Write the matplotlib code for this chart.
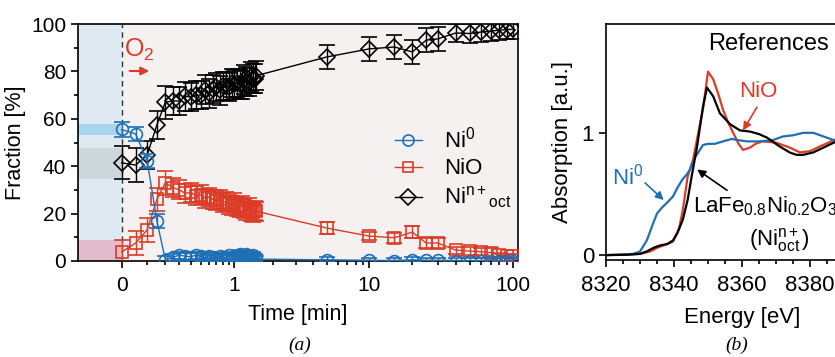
import numpy as np
import matplotlib
matplotlib.use("Agg")
import matplotlib.pyplot as plt
from matplotlib.lines import Line2D
from matplotlib.ticker import FixedLocator, NullFormatter, MultipleLocator

plt.rcParams['font.family'] = ['Liberation Sans', 'DejaVu Sans']
plt.rcParams['mathtext.fontset'] = 'custom'
plt.rcParams['mathtext.rm'] = 'Liberation Sans'
plt.rcParams['mathtext.it'] = 'Liberation Sans:italic'
plt.rcParams['axes.linewidth'] = 1.2

# ---- panel (a) data: fractions vs time ----
t = [0, 0.05, 0.1, 0.15, 0.2, 0.25, 0.3, 0.35, 0.4, 0.45, 0.5, 0.55, 0.6, 0.65, 0.7,
     0.75, 0.8, 0.85, 0.9, 0.95, 1.0, 1.05, 1.1, 1.15, 1.2, 1.25, 1.3, 1.35, 1.4, 1.45, 1.5,
     5, 10, 15, 20, 25, 30, 40, 50, 60, 70, 80, 90, 100]
ni0 = [55.5, 53.6, 42.2, 16.9, 0.6, 1.5, 2.5, 2.0, 1.8, 2.5, 2.0, 1.2, 2.3, 1.5, 1.0,
       2.0, 1.7, 1.2, 2.5, 1.5, 1.0, 2.0, 3.0, 2.2, 1.5, 2.8, 2.0, 1.2, 2.5, 1.5, 0.8,
       0.5, 0.3, 0.2, 0.5, 0.3, 0.3, 0.2, 0.1, 0.2, 0.2, 0.1, 0.1, 0.1]
ni0_err = [3, 3, 3, 3, 1.5, 1.5, 1.5, 1.5, 1.5, 1.5, 1.5, 1.5, 1.5, 1.5, 1.5,
           1.5, 1.5, 1.5, 1.5, 1.5, 1.5, 1.5, 1.5, 1.5, 1.5, 1.5, 1.5, 1.5, 1.5, 1.5, 1.5,
           1, 1, 1, 1, 1, 1, 1, 1, 1, 1, 1, 1, 1]
nio = [3.8, 7.6, 13.2, 26.0, 33.0, 31.0, 30.0, 28.5, 29.0, 27.5, 28.0, 26.5, 27.0, 26.0, 25.5,
       26.0, 24.5, 25.0, 24.0, 23.5, 24.5, 23.0, 22.5, 23.5, 22.0, 21.5, 22.5, 21.0, 20.5, 21.5, 21.0,
       13.9, 10.5, 9.8, 12.2, 7.6, 7.6, 4.6, 4.2, 3.9, 3.5, 2.5, 2.1, 2.0]
nio_err = [5, 5, 5, 5, 5, 4, 4, 4, 4, 4, 4, 4, 4, 4, 4,
           4, 4, 4, 4, 4, 4, 4, 4, 4, 4, 4, 4, 4, 4, 4, 4,
           2.5, 1.7, 2, 2.5, 2, 2, 1.5, 1.5, 1.5, 1.8, 1, 1, 1]
nioct = [41.4, 40.5, 44.7, 57.4, 67.0, 67.5, 67.5, 69.5, 69.2, 70.0, 70.0, 72.3, 70.7, 72.5, 73.5,
         72.0, 73.8, 73.8, 73.5, 75.0, 74.5, 75.0, 74.5, 74.3, 76.5, 75.7, 75.5, 77.8, 77.0, 77.0, 78.2,
         86.1, 89.5, 90.3, 88.2, 93.2, 93.7, 96.2, 96.0, 96.6, 97.0, 97.4, 97.6, 97.8]
nioct_err = [7, 7, 6, 6, 7, 6, 6, 6, 6, 6, 6, 6, 6, 6, 6,
             6, 6, 6, 6, 6, 6, 6, 6, 6, 6, 6, 6, 6, 6, 6, 6,
             5, 5, 5, 5, 5, 5, 4, 4, 4, 4, 4, 4, 4]

# initial-state bands (before O2)
band_ni0 = (53.2, 57.8)
band_oct = (34.6, 47.7)
band_nio = (0, 8.9)

# ---- panel (b) data: reference XANES ----
E_ni = [8320, 8325, 8328, 8330, 8332, 8334, 8335, 8336.5, 8338, 8339.7, 8341, 8342.5, 8343.8,
        8344.7, 8346, 8347.6, 8348.5, 8350, 8352, 8354.4, 8357, 8359, 8361.5, 8365, 8369,
        8372, 8375, 8378, 8381, 8384, 8387, 8390, 8395, 8400]
A_ni = [0, 0.005, 0.01, 0.03, 0.12, 0.27, 0.34, 0.39, 0.43, 0.48, 0.55, 0.62, 0.66,
        0.70, 0.79, 0.86, 0.90, 0.91, 0.91, 0.93, 0.95, 0.94, 0.93, 0.93, 0.94,
        0.97, 0.98, 1.0, 1.0, 0.97, 0.94, 0.92, 0.92, 0.94]
E_nio = [8320, 8326, 8330, 8333, 8335, 8337, 8339.7, 8341.5, 8342.6, 8344, 8345.6, 8347,
         8348.5, 8350, 8351.5, 8353, 8354.4, 8356, 8357.4, 8359, 8360.3, 8362.4, 8364, 8366,
         8370, 8374, 8377, 8380, 8383, 8387, 8390, 8395, 8400]
A_nio = [0, 0.003, 0.01, 0.03, 0.06, 0.08, 0.11, 0.22, 0.37, 0.64, 0.78, 0.98,
         1.19, 1.50, 1.44, 1.32, 1.19, 1.08, 1.0, 0.91, 0.86, 0.88, 0.91, 0.93,
         0.92, 0.88, 0.84, 0.85, 0.89, 0.94, 0.97, 1.0, 1.0]
E_lfno = [8320, 8326, 8330, 8332, 8334, 8336, 8338, 8339.7, 8341, 8342.6, 8344, 8345.3,
          8346.8, 8348.5, 8349.7, 8351.5, 8353.5, 8356.5, 8359.4, 8362.4, 8365, 8367.4,
          8371, 8374, 8376, 8378, 8381, 8384, 8387, 8390, 8395, 8400]
A_lfno = [0, 0.003, 0.01, 0.03, 0.06, 0.08, 0.09, 0.12, 0.18, 0.29, 0.45, 0.66,
          0.89, 1.21, 1.37, 1.30, 1.16, 1.07, 1.02, 1.01, 0.99, 0.96,
          0.89, 0.84, 0.82, 0.82, 0.84, 0.88, 0.92, 0.96, 1.0, 1.0]

blue = '#1f6fb4'
red = '#dc3b26'

W, H = 835, 357
fig = plt.figure(figsize=(W / 100, H / 100), dpi=100)

def fx(px):
    return px / W

def fy(py):
    return 1 - py / H

# ---------------- panel (a) ----------------
ax = fig.add_axes([fx(78), fy(261), fx(518) - fx(78), fy(24) - fy(261)])
ax.set_xscale('function', functions=(lambda x: np.log10(np.maximum(x + 0.2, 1e-6)),
                                     lambda y: 10 ** y - 0.2))
ax.set_xlim(-0.1, 108)
ax.set_ylim(0, 100)
ax.set_facecolor('#f6f1f1')

ax.axvspan(-0.1, 0, color='#dfe9f1', zorder=0, lw=0)
ax.fill_between([-0.1, 0], *band_ni0, color='#a9d4ee', lw=0, zorder=0.5)
ax.fill_between([-0.1, 0], *band_oct, color='#cdd8dc', lw=0, zorder=0.5)
ax.fill_between([-0.1, 0], *band_nio, color='#e3bccb', lw=0, zorder=0.5)
ax.axvline(0, color='#333333', ls=(0, (4, 3)), lw=1, zorder=1)

kw = dict(capsize=6, elinewidth=1, capthick=1, lw=1, mfc='none', mew=1.2)
ax.errorbar(t, nioct, yerr=nioct_err, color='black', marker='D', ms=8.5, zorder=3, **kw)
ax.errorbar(t, nio, yerr=nio_err, color=red, marker='s', ms=8, zorder=4, **kw)
ax.errorbar(t, ni0, yerr=ni0_err, color=blue, marker='o', ms=8.5, zorder=5, **kw)

ax.xaxis.set_major_locator(FixedLocator([0, 1, 10, 100]))
ax.xaxis.set_major_formatter(plt.FixedFormatter(['0', '1', '10', '100']))
minors = [0.1, 0.2, 0.3, 0.4, 0.5, 0.6, 0.7, 0.8, 0.9] + list(range(2, 10)) + list(range(20, 100, 10))
ax.xaxis.set_minor_locator(FixedLocator(minors))
ax.xaxis.set_minor_formatter(NullFormatter())
ax.yaxis.set_major_locator(MultipleLocator(20))
ax.yaxis.set_minor_locator(MultipleLocator(10))
ax.tick_params(which='major', direction='out', length=5, width=1.2, labelsize=15)
ax.tick_params(which='minor', direction='out', length=3, width=1.2)
ax.tick_params(axis='x', pad=6)
ax.set_xlabel('Time [min]', fontsize=15.5, labelpad=6)
ax.set_ylabel('Fraction [%]', fontsize=15.5, labelpad=4)

handles = [
    Line2D([], [], color=blue, marker='o', ms=8, mfc='none', mew=1.2, lw=1),
    Line2D([], [], color=red, marker='s', ms=7.5, mfc='none', mew=1.2, lw=1),
    Line2D([], [], color='black', marker='D', ms=8, mfc='none', mew=1.2, lw=1),
]
labels = ['Ni$^0$', 'NiO', 'Ni$^{\\mathregular{n+}}{}_{\\mathregular{oct}}$']
ax.legend(handles, labels, loc='center left', bbox_to_anchor=(0.70, 0.39),
          frameon=False, fontsize=16, handlelength=1.2, handletextpad=1.0,
          labelspacing=0.25, borderaxespad=0)

fig.text(fx(124), fy(50), 'O$_2$', color=red, fontsize=18, va='center', ha='left')
ax.annotate('', xy=(fx(152), fy(71)), xytext=(fx(127), fy(71)),
            xycoords='figure fraction', textcoords='figure fraction',
            arrowprops=dict(arrowstyle='-|>', color=red, lw=1.5, mutation_scale=12))

fig.text(fx(300), fy(345), '(a)', fontsize=14, style='italic', family='Liberation Serif',
         ha='center', va='center')

# ---------------- panel (b) ----------------
bx = fig.add_axes([fx(606), fy(260), fx(878) - fx(606), fy(24) - fy(260)])
bx.plot(E_ni, A_ni, color=blue, lw=1.6, zorder=3)
bx.plot(E_nio, A_nio, color=red, lw=1.6, zorder=2)
bx.plot(E_lfno, A_lfno, color='black', lw=1.6, zorder=4)
bx.set_xlim(8320, 8400)
bx.set_ylim(-0.04, 1.89)
bx.set_xticks([8320, 8340, 8360, 8380])
bx.xaxis.set_minor_locator(MultipleLocator(5))
bx.set_yticks([0, 1])
bx.tick_params(which='major', direction='out', length=5, width=1.2, labelsize=16)
bx.tick_params(which='minor', direction='out', length=3, width=1.2)
bx.tick_params(axis='x', pad=6)
bx.set_xlabel('Energy [eV]', fontsize=16, labelpad=8)
bx.set_ylabel('Absorption [a.u.]', fontsize=16, labelpad=6)

arrow = dict(arrowstyle='-|>', lw=1.2, mutation_scale=12, shrinkA=0, shrinkB=0)
bx.text(8350, 1.73, 'References', fontsize=17, ha='left', va='center')
bx.text(8364.7, 1.34, 'NiO', color=red, fontsize=16, ha='center', va='center')
bx.annotate('', xy=(8360.3, 1.02), xytext=(8364.4, 1.21), arrowprops=dict(color=red, **arrow))
bx.text(8326.5, 0.64, 'Ni$^0$', color=blue, fontsize=16, ha='center', va='center')
bx.annotate('', xy=(8337, 0.45), xytext=(8331.5, 0.59), arrowprops=dict(color=blue, **arrow))
bx.annotate('', xy=(8346.8, 0.70), xytext=(8355.6, 0.53), arrowprops=dict(color='black', **arrow))
bx.text(8345.6, 0.40, 'LaFe$_{0.8}$Ni$_{0.2}$O$_3$', fontsize=16, ha='left', va='center')
bx.text(8371, 0.12, '(Ni$^{\\mathregular{n+}}_{\\mathregular{oct}}$)', fontsize=16,
        ha='center', va='center')

fig.text(fx(737), fy(345), '(b)', fontsize=14, style='italic', family='Liberation Serif',
         ha='center', va='center')

fig.savefig('out.png', dpi=100)
